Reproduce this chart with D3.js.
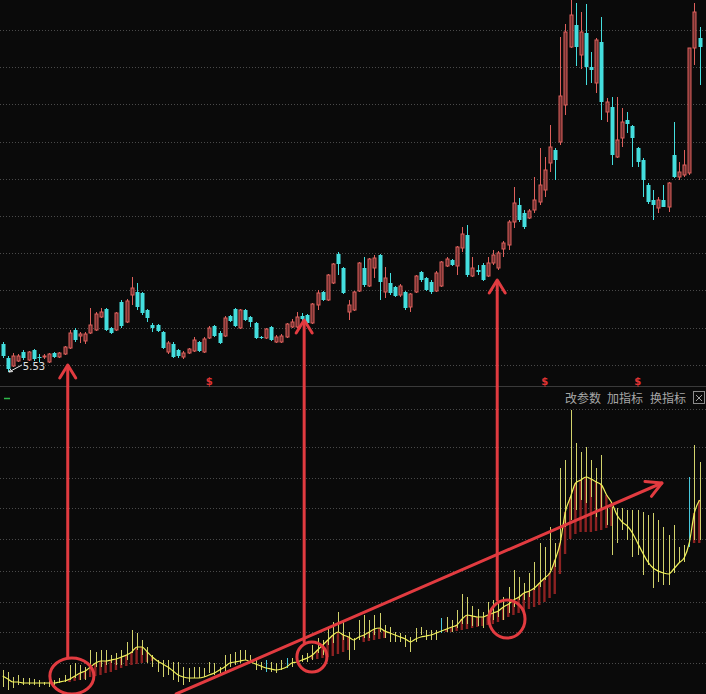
<!DOCTYPE html>
<html><head><meta charset="utf-8">
<script src="https://cdn.jsdelivr.net/npm/d3@7"></script>
<style>html,body{margin:0;padding:0;background:#0a0a0a;overflow:hidden}</style>
</head><body>
<svg id="c" width="706" height="694"></svg>
<script>
// ---------- DATA ----------
const open = [6.09,5.81,5.65,5.75,5.93,5.77,5.97,5.83,5.83,5.73,
5.91,5.83,5.89,6.01,6.37,6.25,6.15,6.31,6.37,6.63,
6.79,6.41,6.37,6.93,6.53,7.07,7.13,7.11,6.77,6.47,
6.47,6.33,5.93,6.09,5.97,5.83,5.91,5.95,6.13,5.93,
6.21,6.45,6.31,6.25,6.65,6.79,6.41,6.77,6.63,6.51,
6.23,6.21,6.43,6.13,6.13,6.23,6.43,6.43,6.65,6.67,
6.51,6.87,7.13,6.97,7.31,7.89,7.61,6.73,6.77,7.15,
7.61,7.25,7.61,7.87,7.13,7.31,7.23,7.07,7.13,6.83,
7.13,7.53,7.41,7.33,7.15,7.25,7.65,7.77,7.65,8.01,
8.27,7.45,7.57,7.67,7.45,7.71,7.61,7.99,8.07,8.53,
8.87,8.71,8.61,8.77,8.93,9.17,9.71,9.97,10.13,10.87,
12.03,12.47,11.87,12.31,11.63,11.31,12.13,10.73,10.83,9.83,
10.21,10.57,10.45,10.01,9.77,9.27,8.97,8.81,8.97,8.83,
9.87,9.43,9.47,9.51,12.01,12.21];
const close = [5.85,5.59,5.85,5.85,5.81,5.93,5.79,5.81,5.85,5.89,
5.83,5.91,6.03,6.31,6.17,6.29,6.29,6.47,6.69,6.73,
6.37,6.31,6.71,6.45,6.95,7.21,6.83,6.71,6.61,6.41,
6.35,6.01,6.11,5.83,5.85,5.91,5.99,6.17,5.95,6.19,
6.41,6.25,6.11,6.61,6.55,6.45,6.77,6.57,6.53,6.21,
6.21,6.39,6.17,6.23,6.25,6.49,6.53,6.63,6.59,6.51,
6.89,7.11,6.97,7.47,7.69,7.69,7.11,6.87,7.13,7.71,
7.27,7.79,7.81,7.33,7.41,7.11,7.05,7.25,6.81,7.09,
7.45,7.37,7.17,7.13,7.51,7.73,7.79,7.67,8.03,8.29,
7.47,7.61,7.53,7.37,7.71,7.87,7.91,8.11,8.53,8.91,
8.57,8.43,8.75,8.97,9.27,9.57,10.03,9.77,11.05,12.33,
12.67,12.03,12.33,11.63,11.57,12.17,10.93,10.93,9.87,10.17,
10.53,10.49,10.21,9.73,9.37,8.93,8.87,8.97,8.83,9.31,
9.43,9.53,9.67,12.01,12.73,12.03];
const high = [6.13,5.85,5.91,5.89,5.97,5.95,5.99,5.89,5.89,5.91,
5.93,5.93,6.05,6.37,6.41,6.33,6.33,6.81,6.73,6.81,
6.81,6.43,6.73,6.97,6.99,7.43,7.31,7.13,6.79,6.51,
6.49,6.35,6.15,6.13,5.99,5.95,6.01,6.23,6.15,6.23,
6.45,6.47,6.35,6.65,6.67,6.81,6.79,6.79,6.65,6.53,
6.25,6.41,6.45,6.27,6.29,6.51,6.59,6.73,6.71,6.69,
6.91,7.17,7.15,7.49,7.71,7.93,7.63,6.97,7.15,7.73,
7.83,7.81,7.87,7.89,7.63,7.51,7.25,7.29,7.15,7.11,
7.47,7.55,7.43,7.37,7.55,7.75,7.83,7.79,8.05,8.43,
8.47,7.83,7.67,7.71,7.83,7.97,7.95,8.15,8.57,9.23,
9.01,8.77,8.79,9.43,10.01,9.83,10.47,10.01,12.23,12.49,
12.97,12.91,12.73,12.89,11.93,12.21,12.63,11.01,11.03,11.03,
10.81,10.73,10.47,10.03,9.81,9.31,9.17,9.03,9.27,9.33,
10.53,9.73,9.97,12.01,12.91,12.43];
const low = [5.81,5.53,5.63,5.73,5.77,5.75,5.75,5.73,5.79,5.71,
5.81,5.81,5.87,5.99,6.13,6.11,6.09,6.29,6.35,6.61,
6.35,6.29,6.35,6.41,6.51,6.87,6.77,6.67,6.53,6.33,
6.33,5.99,5.89,5.81,5.81,5.79,5.89,5.93,5.93,5.91,
6.19,6.23,6.09,6.23,6.53,6.43,6.39,6.55,6.43,6.19,
6.19,6.19,6.15,6.11,6.11,6.21,6.41,6.41,6.53,6.47,
6.49,6.77,6.95,6.95,7.29,7.47,7.09,6.57,6.75,7.13,
7.23,7.23,7.41,6.97,7.01,7.07,7.03,7.03,6.77,6.73,
7.11,7.33,7.15,7.09,7.13,7.23,7.63,7.65,7.47,7.93,
7.43,7.43,7.47,7.35,7.43,7.67,7.57,7.83,7.97,8.41,
8.53,8.39,8.59,8.71,8.87,9.03,9.53,9.37,10.07,10.67,
12.01,11.65,11.59,11.27,11.31,11.11,10.57,10.53,9.67,9.81,
10.03,10.31,9.63,9.63,9.03,8.89,8.57,8.71,8.83,8.73,
9.41,9.37,9.43,9.47,11.67,11.27];

// lower indicator panel
const stickHi = [24,22,17,19,16,16,15,14,12,14,
14,16,19,29,31,29,27,44,42,44,
44,39,41,44,52,64,61,54,47,39,
34,34,34,32,32,27,26,27,27,26,
32,31,27,39,40,42,44,44,39,34,
32,34,32,31,34,36,36,42,39,41,
49,56,54,66,72,82,74,62,56,74,
79,74,79,81,69,67,62,61,59,57,
66,67,64,64,64,76,77,74,84,100,
97,88,85,82,92,94,91,97,107,124,
117,111,121,132,151,147,167,151,226,234,
284,251,242,247,234,226,239,187,187,186,
186,184,184,184,182,179,181,174,167,159,
169,147,149,217,249,232];
const stickLo = [7,4,6,9,9,9,9,7,9,7,
9,11,12,14,16,14,14,27,27,27,
29,31,29,29,34,41,44,39,31,27,
22,17,19,14,12,9,12,16,16,17,
21,19,21,22,27,29,31,34,31,24,
24,22,22,21,24,26,27,31,32,32,
34,41,39,49,51,62,54,34,44,54,
56,56,59,62,56,52,52,52,47,42,
52,59,54,54,54,61,62,62,66,70,
70,68,68,66,70,74,77,74,81,87,
94,94,97,104,107,114,124,127,151,167,
174,184,194,191,197,177,184,169,139,151,
164,154,137,139,119,129,106,112,109,109,
121,131,132,147,154,154];
const ma = [18,15,12,12,11,11,11,11,11,11,
11,12,13,15,18,21,23,27,31,33,
33,34,35,37,39,42,47,47,42,37,
33,30,27,23,19,17,16,16,16,17,
19,21,24,27,31,32,33,34,32,30,
28,26,25,24,25,27,31,32,34,36,
39,44,49,54,59,62,59,57,54,57,
59,62,65,66,63,61,59,57,55,52,
55,57,58,59,61,63,65,67,69,75,
79,78,77,77,79,81,83,87,90,94,
97,101,103,106,111,116,121,134,151,182,
197,211,214,217,215,212,209,199,191,179,
172,168,161,151,141,132,126,123,121,120,
125,131,136,151,181,194];
const slow = [null,null,null,null,null,null,null,null,null,null,
null,null,null,12,13,14,15,17,18,19,
21,22,24,26,28,29,30,31,32,33,
null,null,null,null,null,null,null,null,null,null,
null,null,null,null,null,null,null,null,null,null,
null,null,null,null,null,null,null,null,null,null,
35,35,36,37,38,40,42,44,null,null,
52,53,54,55,56,null,null,null,null,null,
null,null,null,null,null,null,62,62,63,64,
65,66,67,68,69,70,72,74,77,79,
81,83,85,87,89,92,96,100,120,140,
155,160,162,162,162,163,164,166,168,null,
null,null,null,null,null,null,null,null,null,null,
null,null,null,null,151,151];
const cyanSticks = [51,55,85,133];

const priceGrid = [12.37,11.626,10.882,10.138,9.394,8.65,7.906,7.162,6.418,5.674];
const indGrid = [285,247,216,186,155,123,92,62,31];
const lowLabel = "5.53";
const lowIndex = 1;
const markerIdx = [40,105,123];
const buttons = ["改参数","加指标","换指标"];

// hand-drawn annotations anchored to data (candle index, price / indicator value)
const arrowIdx = [12.6,58.4,95.8];
const arrowTipPrice = [5.67,6.57,7.37];
const circIdx = [13.4,59.9,97.7];
const circVal = [18,37,75];
const circR = [[22,18],[15,15],[18,19]];
const trendFrom = [33.6,0];
const trendTo = [127.7,211];

// ---------- DRAW ----------
const W=706,H=694;
const svg=d3.select("#c");
svg.append("rect").attr("width",W).attr("height",H).attr("fill","#0a0a0a");

const idx=d3.range(open.length);
const x=d3.scaleBand().domain(idx).range([0.12,702.15]).paddingInner(0.38).paddingOuter(0.19);
const cx=i=>x(i)+x.bandwidth()/2;
const xl=d3.scaleLinear().domain([0,idx.length-1]).range([cx(0),cx(idx.length-1)]);
const y=d3.scaleLinear().domain([5.53,12.97]).range([372,0]);
const yi=d3.scaleLinear().domain([0,284]).range([694,410]);

// grids
const grid=svg.append("g").attr("stroke","#4a4a4a").attr("stroke-dasharray","1 2").attr("stroke-width",1);
priceGrid.forEach(p=>{const yy=Math.round(y(p))+0.5;grid.append("line").attr("x1",0).attr("x2",W).attr("y1",yy).attr("y2",yy);});
indGrid.forEach(v=>{const yy=Math.round(yi(v))+0.5;grid.append("line").attr("x1",0).attr("x2",W).attr("y1",yy).attr("y2",yy);});
svg.append("line").attr("x1",0).attr("x2",W).attr("y1",386.5).attr("y2",386.5).attr("stroke","#3a3a3a");

// candles
const gC=svg.append("g");
idx.forEach(i=>{
  const up=close[i]>=open[i];
  const col=up?"#de605c":"#44dede";
  const xc=Math.round(cx(i))+0.5;
  gC.append("line").attr("x1",xc).attr("x2",xc).attr("y1",y(high[i])).attr("y2",y(low[i])).attr("stroke",col).attr("stroke-width",1);
  const t=y(Math.max(open[i],close[i])), b=y(Math.min(open[i],close[i]));
  const h=Math.max(1,b-t);
  if(up){
    gC.append("rect").attr("x",xc-1.5).attr("y",t).attr("width",3).attr("height",h)
      .attr("fill","#6e2e2e").attr("stroke",col).attr("stroke-width",1);
  } else {
    gC.append("rect").attr("x",xc-2).attr("y",t).attr("width",4).attr("height",h).attr("fill",col);
  }
});

// low label
{
  const lx=cx(lowIndex)+1, ly=y(low[lowIndex]);
  svg.append("path").attr("d",`M${lx+13},${ly-7} L${lx},${ly} M${lx},${ly} l4,-0.5 M${lx},${ly} l2,-3`)
    .attr("stroke","#e8e8e8").attr("stroke-width",1).attr("fill","none");
  svg.append("text").attr("x",lx+14).attr("y",ly-2).text(lowLabel)
    .attr("fill","#e0e0e0").attr("font-family","DejaVu Sans, sans-serif").attr("font-size",10);
}

// $ markers
markerIdx.forEach(i=>{
  svg.append("text").attr("x",cx(i)).attr("y",385).attr("text-anchor","middle").text("$")
    .attr("fill","#e03434").attr("font-family","DejaVu Sans, sans-serif").attr("font-size",10).attr("font-weight","bold");
});

// small green mark
svg.append("line").attr("x1",4).attr("x2",10).attr("y1",398.5).attr("y2",398.5).attr("stroke","#2fb84a").attr("stroke-width",1.5);

// header buttons
const bx=[565,607,650];
buttons.forEach((b,k)=>{
  svg.append("text").attr("x",bx[k]).attr("y",403).text(b).attr("fill","#a6a6a6")
    .attr("font-family","Noto Sans CJK SC, sans-serif").attr("font-size",12);
});
svg.append("rect").attr("x",693.5).attr("y",391.5).attr("width",11).attr("height",12).attr("fill","none").attr("stroke","#8a8a8a");
svg.append("path").attr("d","M696,395 L702,401 M702,395 L696,401").attr("stroke","#a0a0a0").attr("stroke-width",1);

// indicator: red bars
const gI=svg.append("g");
idx.forEach(i=>{
  if(slow[i]!=null && ma[i]>slow[i]){
    gI.append("rect").attr("x",cx(i)-1.5).attr("y",yi(ma[i])).attr("width",2.4).attr("height",yi(slow[i])-yi(ma[i])).attr("fill","#8c2222");
  }
});
// sticks
idx.forEach(i=>{
  const xc=Math.round(cx(i))+0.5;
  gI.append("line").attr("x1",xc).attr("x2",xc).attr("y1",yi(stickHi[i])).attr("y2",yi(stickLo[i]))
    .attr("stroke",cyanSticks.includes(i)?"#48c8dc":"#d2d26c").attr("stroke-width",1);
});
// MA line
gI.append("path").datum(idx).attr("d",d3.line().x(i=>cx(i)).y(i=>yi(ma[i])).curve(d3.curveMonotoneX))
  .attr("fill","none").attr("stroke","#f0f05a").attr("stroke-width",1.2);

// annotations
const RED="#e23b40";
const ga=svg.append("g").attr("stroke",RED).attr("stroke-width",3).attr("fill","none").attr("stroke-linecap","round").attr("stroke-linejoin","round");
arrowIdx.forEach((f,k)=>{
  const ax=xl(f), tipY=y(arrowTipPrice[k]);
  const ccx=xl(circIdx[k]), ccy=yi(circVal[k]);
  const bottom=ccy-circR[k][1];
  ga.append("line").attr("x1",ax).attr("x2",ax).attr("y1",tipY+1).attr("y2",bottom);
  ga.append("path").attr("d",`M${ax-8},${tipY+13} L${ax},${tipY} L${ax+8},${tipY+13}`);
  ga.append("ellipse").attr("cx",ccx).attr("cy",ccy).attr("rx",circR[k][0]).attr("ry",circR[k][1]);
});
{
  const x1=xl(trendFrom[0]), y1=yi(trendFrom[1]), x2=xl(trendTo[0]), y2=yi(trendTo[1]);
  ga.append("line").attr("x1",x1).attr("y1",y1).attr("x2",x2).attr("y2",y2);
  const ang=Math.atan2(y2-y1,x2-x1), L=17, a=0.5;
  const w1=[x2-L*Math.cos(ang-a), y2-L*Math.sin(ang-a)], w2=[x2-L*Math.cos(ang+a), y2-L*Math.sin(ang+a)];
  ga.append("path").attr("d",`M${w1[0]},${w1[1]} L${x2},${y2} L${w2[0]},${w2[1]}`);
}
</script>
</body></html>
